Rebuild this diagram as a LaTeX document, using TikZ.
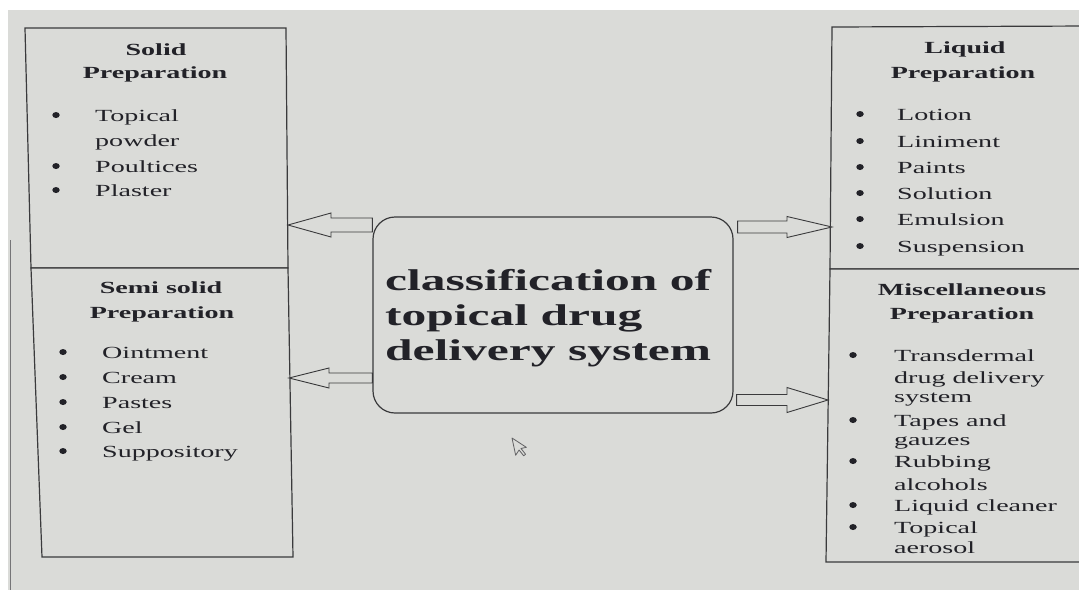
\documentclass[tikz,border=0pt]{standalone}
\usepackage{fontspec}
\setmainfont[FakeStretch=1.65]{Liberation Serif}
\usetikzlibrary{calc,shapes.geometric}
\definecolor{bg}{HTML}{DADBD8}
\definecolor{linec}{HTML}{3A3A3C}
\definecolor{txt}{HTML}{222228}
\newcommand\blockarr[5]{\draw[barrow] ($(#1)+(0,#5)$) -- ($(#2)+(#3,#5)$) -- ($(#2)+(#3,#4)$) -- (#2) -- ($(#2)+(#3,-#4)$) -- ($(#2)+(#3,-#5)$) -- ($(#1)+(0,-#5)$) -- cycle;}
\begin{document}
\begin{tikzpicture}[x=1pt,y=-1pt,
 item/.style={anchor=base west,inner sep=0pt,text=txt,font=\fontsize{17}{20}\selectfont},
 bul/.style={ellipse,fill=txt,inner sep=0pt,minimum width=7.5pt,minimum height=6pt},
 head/.style={anchor=base,inner sep=0pt,text=txt,font=\bfseries\fontsize{17}{20}\selectfont},
 bigtitle/.style={anchor=base west,inner sep=0pt,text=txt,font=\bfseries\fontsize{30}{35}\selectfont},
 panel/.style={draw=linec,line width=1.2pt,fill=bg,line join=miter},
 barrow/.style={draw=linec,line width=0.9pt,fill=bg,line join=miter},
]
\useasboundingbox (0,0) rectangle (1079,590);
\clip (0,0) rectangle (1079,590);
% background (photo of a screen)
\fill[white] (0,0) rectangle (1079,590);
\fill[bg] (8,10) rectangle (1079,590);
\draw[linec!70,line width=1pt] (10,240) -- (10,590);

% panels
\draw[panel] (25,28) -- (286,28) -- (288,268) -- (31,268) -- cycle;
\draw[panel] (31,268) -- (288,268) -- (293,557) -- (42,557) -- cycle;
\draw[panel] (832,27) -- (1090,26) -- (1090,269) -- (830,269) -- cycle;
\draw[panel] (830,269) -- (1090,269) -- (1090,562) -- (826,562) -- cycle;

% centre box
\node[draw=linec,line width=1.2pt,rounded corners=22pt,minimum width=360pt,minimum height=196pt,inner sep=0pt] (center) at (553,315) {};
\node[bigtitle] (c1) at (385,290) {classification of};
\node[bigtitle] (c2) at (385,325) {topical drug};
\node[bigtitle] (c3) at (385,360) {delivery system};

% arrow tips on the panel edges
\coordinate (tipA) at (288,225);
\coordinate (tipB) at (289,378);
\coordinate (tipC) at (832,227);
\coordinate (tipD) at (828,400);
\coordinate (tailA) at (center.west |- tipA);
\coordinate (tailB) at (center.west |- tipB);
\coordinate (tailC) at ($(center.east |- tipC)+(4,0)$);
\coordinate (tailD) at ($(center.east |- tipD)+(3,0)$);
\blockarr{tailA}{tipA}{43}{12}{7}
\blockarr{tailB}{tipB}{40}{10}{5}
\blockarr{tailC}{tipC}{-45}{10.5}{6}
\blockarr{tailD}{tipD}{-41}{12.5}{5.5}

% headings
\node[head] (h1a) at (156,55) {Solid};
\node[head] (h1b) at (155,78) {Preparation};
\node[head] (h2a) at (161,293) {Semi solid};
\node[head] (h2b) at (162,318) {Preparation};
\node[head] (h3a) at (965,53) {Liquid};
\node[head] (h3b) at (963,78) {Preparation};
\node[head] (h4a) at (962,295) {Miscellaneous};
\node[head] (h4b) at (962,319) {Preparation};

% lists
\foreach \yy/\bflag/\tx [count=\i] in {121/1/Topical,146/0/powder,172/1/Poultices,196/1/Plaster}{
  \node[item] (sol\i) at (95,\yy) {\tx};
  \ifnum\bflag=1 \node[bul] (solb\i) at (56,\yy-6) {}; \fi
}
\foreach \yy/\bflag/\tx [count=\i] in {358/1/Ointment,383/1/Cream,408/1/Pastes,433/1/Gel,457/1/Suppository}{
  \node[item] (sem\i) at (102,\yy) {\tx};
  \ifnum\bflag=1 \node[bul] (semb\i) at (63,\yy-6) {}; \fi
}
\foreach \yy/\bflag/\tx [count=\i] in {120/1/Lotion,147/1/Liniment,173/1/Paints,199/1/Solution,225/1/Emulsion,252/1/Suspension}{
  \node[item] (liq\i) at (897,\yy) {\tx};
  \ifnum\bflag=1 \node[bul] (liqb\i) at (860,\yy-6) {}; \fi
}
\foreach \yy/\bflag/\tx [count=\i] in {361/1/Transdermal,383/0/drug delivery,402/0/system,426/1/Tapes and,445/0/gauzes,467/1/Rubbing,490/0/alcohols,511/1/Liquid cleaner,533/1/Topical,553/0/aerosol}{
  \node[item] (mis\i) at (894,\yy) {\tx};
  \ifnum\bflag=1 \node[bul] (misb\i) at (853,\yy-6) {}; \fi
}

% mouse pointer
\begin{scope}[shift={(512,438)},rotate=12,scale=1.1]
\draw[linec!80,line width=0.8pt,fill=bg,line join=round] (0,0) -- (0,16) -- (4,12) -- (7,18) -- (9,17) -- (6,11) -- (11,11) -- cycle;
\end{scope}
\end{tikzpicture}
\end{document}
